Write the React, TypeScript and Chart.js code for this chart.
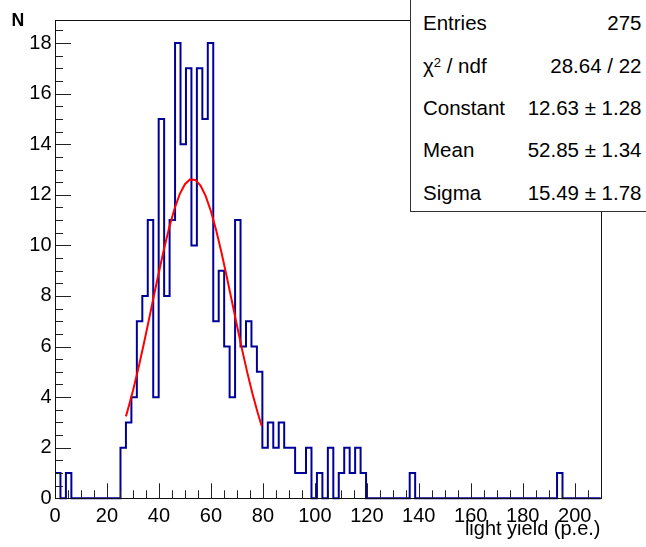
import React, { useEffect, useRef } from 'react';
import { Chart, registerables } from 'chart.js';

Chart.register(...registerables);

// Histogram definition: 100 bins between X_MIN and X_MAX
const X_MIN = 0;
const X_MAX = 210;
const binCounts = [
  1, 0, 1, 0, 0, 0, 0, 0, 0, 0,
  0, 0, 2, 3, 4, 7, 8, 11, 4, 15,
  8, 11, 18, 14, 17, 10, 17, 15, 18, 7,
  9, 6, 4, 11, 6, 7, 6, 5, 2, 3,
  2, 3, 2, 2, 1, 1, 2, 0, 1, 0,
  2, 0, 1, 2, 1, 2, 1, 0, 0, 0,
  0, 0, 0, 0, 0, 1, 0, 0, 0, 0,
  0, 0, 0, 0, 0, 0, 0, 0, 0, 0,
  0, 0, 0, 0, 0, 0, 0, 0, 0, 0,
  0, 0, 1, 0, 0, 0, 0, 0, 0, 0,
];

// Gaussian fit curve, sampled
const fitX = [27.3, 28, 30, 32, 34, 36, 38, 40, 42, 44, 46, 48, 50, 52, 54, 56, 58, 60, 62, 64, 66, 68, 70, 72, 74, 76, 78, 79.5];
const fitY = [3.24, 3.49, 4.25, 5.10, 6.02, 6.99, 7.98, 8.95, 9.88, 10.73, 11.45, 12.03, 12.42, 12.61, 12.59, 12.37, 11.95, 11.35, 10.61, 9.75, 8.81, 7.83, 6.84, 5.88, 4.97, 4.13, 3.38, 2.87];

const xTickValues = [0, 20, 40, 60, 80, 100, 120, 140, 160, 180, 200];
const yTickValues = [0, 2, 4, 6, 8, 10, 12, 14, 16, 18];
const Y_MAX = 18.9;

const statLabels = ['Entries', 'chi2', 'Constant', 'Mean', 'Sigma'];
const statValues = ['275', '28.64 / 22', '12.63 \u00b1 1.28', '52.85 \u00b1 1.34', '15.49 \u00b1 1.78'];

const FONT = "'Liberation Sans', Arial, Helvetica, sans-serif";
const W = 646;
const H = 547;

const rootFramePlugin = {
  id: 'rootFrame',
  afterDraw(chart: any) {
    const { ctx, chartArea } = chart;
    const { left, right, top, bottom } = chartArea;
    const xs = chart.scales.x;
    const ys = chart.scales.y;
    ctx.save();
    ctx.strokeStyle = '#222';
    ctx.lineWidth = 1;
    ctx.beginPath();
    for (let v = X_MIN; v <= X_MAX + 1e-6; v += 5) {
      const px = Math.round(xs.getPixelForValue(v)) + 0.5;
      const len = v % 20 === 0 ? 15 : 8;
      ctx.moveTo(px, bottom);
      ctx.lineTo(px, bottom - len);
    }
    for (let v = 0; v <= Y_MAX + 1e-6; v += 0.5) {
      const py = Math.round(ys.getPixelForValue(v)) + 0.5;
      const len = Math.abs(v % 2) < 1e-6 ? 16 : 8;
      ctx.moveTo(left, py);
      ctx.lineTo(left + len, py);
    }
    ctx.stroke();
    ctx.strokeStyle = '#111';
    ctx.strokeRect(Math.round(left) + 0.5, Math.round(top) + 0.5, Math.round(right - left), Math.round(bottom - top));
    ctx.restore();
  },
};

export default function App() {
  const canvasRef = useRef<HTMLCanvasElement | null>(null);

  useEffect(() => {
    if (!canvasRef.current) return;
    const binWidth = (X_MAX - X_MIN) / binCounts.length;
    const histPoints = binCounts.map((c, i) => ({ x: X_MIN + i * binWidth, y: c }));
    histPoints.push({ x: X_MAX, y: binCounts[binCounts.length - 1] });
    const fitPoints = fitX.map((x, i) => ({ x, y: fitY[i] }));

    const tickFont = { family: FONT, size: 20 };

    const chart = new Chart(canvasRef.current, {
      type: 'line',
      data: {
        datasets: [
          {
            label: 'fit',
            data: fitPoints,
            borderColor: '#ff0000',
            borderWidth: 2,
            pointRadius: 0,
            tension: 0,
            order: 0,
          },
          {
            label: 'hist',
            data: histPoints,
            stepped: 'before',
            borderColor: '#000099',
            borderWidth: 2,
            pointRadius: 0,
            order: 1,
            clip: 3,
          } as any,
        ],
      },
      options: {
        animation: false,
        responsive: false,
        maintainAspectRatio: false,
        layout: { padding: { top: 20.3, right: 45.3, left: 0, bottom: 0 } },
        plugins: { legend: { display: false }, tooltip: { enabled: false } },
        scales: {
          x: {
            type: 'linear',
            min: X_MIN,
            max: X_MAX,
            grid: { display: false, drawTicks: false },
            border: { display: false },
            ticks: { font: tickFont, color: '#000', padding: 6.5, maxRotation: 0, autoSkip: false },
            afterBuildTicks: (s: any) => {
              s.ticks = xTickValues.map((v) => ({ value: v }));
            },
            afterFit: (s: any) => {
              s.height = H - 498.3;
            },
          },
          y: {
            type: 'linear',
            min: 0,
            max: Y_MAX,
            grid: { display: false, drawTicks: false },
            border: { display: false },
            ticks: { font: tickFont, color: '#000', padding: 3.5, autoSkip: false },
            afterBuildTicks: (s: any) => {
              s.ticks = yTickValues.map((v) => ({ value: v }));
            },
            afterFit: (s: any) => {
              s.width = 55;
            },
          },
        },
      },
      plugins: [rootFramePlugin],
    });
    return () => chart.destroy();
  }, []);

  const rowCenters = [22.7, 65, 107.2, 149.6, 192];

  return (
    <div style={{ position: 'fixed', left: 0, top: 0, width: W, height: H, background: '#fff', overflow: 'hidden' }}>
      <canvas ref={canvasRef} width={W} height={H} style={{ position: 'absolute', left: 0, top: 0, width: W, height: H }} />
      <div
        style={{
          position: 'absolute', left: 11.5, top: 9.9, fontFamily: FONT, fontWeight: 'bold',
          fontSize: 17.7, lineHeight: '20px', color: '#000',
        }}
      >
        N
      </div>
      <div
        style={{
          position: 'absolute', right: W - 600.5, top: 517, fontFamily: FONT,
          fontSize: 20, lineHeight: '22px', color: '#000', whiteSpace: 'nowrap',
        }}
      >
        light yield (p.e.)
      </div>
      <div
        style={{
          position: 'absolute', left: 409.5, top: -1, width: 245, height: 213,
          border: '1px solid #333', background: '#fff', boxSizing: 'border-box',
          fontFamily: FONT, fontSize: 20.5, color: '#000',
        }}
      >
        {statLabels.map((lab, i) => (
          <div
            key={lab}
            style={{
              position: 'absolute', left: 12.5, width: 218.5, top: rowCenters[i] + 1 - 12.5,
              lineHeight: '23px', display: 'flex', justifyContent: 'space-between', whiteSpace: 'nowrap',
            }}
          >
            <span>
              {lab === 'chi2' ? (
                <>
                  {'\u03c7'}
                  <sup style={{ fontSize: 13, verticalAlign: 'top', position: 'relative', top: -3 }}>2</sup>
                  {' / ndf'}
                </>
              ) : (
                lab
              )}
            </span>
            <span>{statValues[i]}</span>
          </div>
        ))}
      </div>
    </div>
  );
}
